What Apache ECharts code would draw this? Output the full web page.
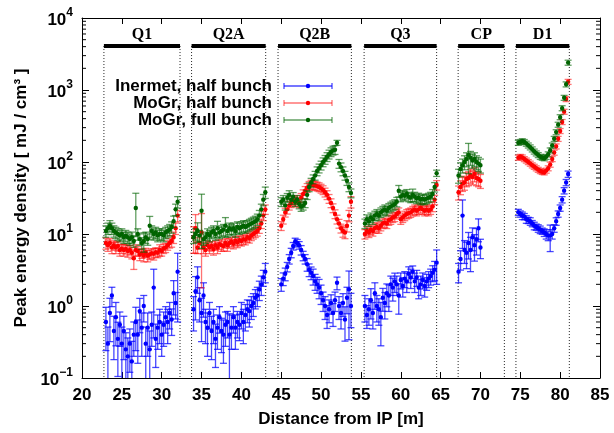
<!DOCTYPE html>
<html><head><meta charset="utf-8">
<script src="https://cdn.jsdelivr.net/npm/echarts@6/dist/echarts.min.js"></script>
<style>html,body{margin:0;padding:0;background:#fff}#c{width:614px;height:433px}</style>
</head><body><div id="c"></div>
<script>
// ---------- data ----------
const positions = [
  23,23.25,23.5,23.75,24,24.25,24.5,24.75,25,25.25,25.5,25.75,26,26.25,26.5,26.75,27,27.25,27.5,27.75,28,28.25,28.5,28.75,29,29.25,29.5,29.75,30,30.25,30.5,30.75,31,31.25,31.5,31.75,32,
  34,34.25,34.5,34.75,35,35.25,35.5,35.75,36,36.25,36.5,36.75,37,37.25,37.5,37.75,38,38.25,38.5,38.75,39,39.25,39.5,39.75,40,40.25,40.5,40.75,41,41.25,41.5,41.75,42,42.25,42.5,42.75,43,
  45,45.25,45.5,45.75,46,46.25,46.5,46.75,47,47.25,47.5,47.75,48,48.25,48.5,48.75,49,49.25,49.5,49.75,50,50.25,50.5,50.75,51,51.25,51.5,51.75,52,52.25,52.5,52.75,53,53.25,53.5,53.75,
  55.5,55.75,56,56.25,56.5,56.75,57,57.25,57.5,57.75,58,58.25,58.5,58.75,59,59.25,59.5,59.75,60,60.25,60.5,60.75,61,61.25,61.5,61.75,62,62.25,62.5,62.75,63,63.25,63.5,63.75,64,64.25,64.5,
  67.25,67.5,67.75,68,68.25,68.5,68.75,69,69.25,69.5,69.75,70,
  74.75,75,75.25,75.5,75.75,76,76.25,76.5,76.75,77,77.25,77.5,77.75,78,78.25,78.5,78.75,79,79.25,79.5,79.75,80,80.25,80.5,80.75,81
];
const inermetHalf = [
  0.6,0.3,0.8,1.4,0.45,0.7,0.35,0.55,0.3,0.45,0.25,0.2,0.3,0.17,0.4,0.6,0.4,0.85,0.5,1.0,0.3,0.5,0.25,0.55,1.8,0.35,0.5,0.6,0.4,0.55,0.7,0.6,0.8,0.65,1.5,1.1,3.0,
  0.9,1.6,2.5,1.2,0.8,1.4,0.6,0.5,0.8,0.45,0.6,0.35,0.5,0.7,0.45,0.4,0.55,0.6,0.4,0.5,0.7,0.5,0.6,0.55,0.8,0.6,0.75,0.9,0.85,1.0,1.1,1.3,1.4,1.7,2.0,2.5,3.0,
  2.0,2.4,2.8,3.5,4.5,5.5,6.8,7.8,7.5,7.0,6.0,5.0,4.5,3.8,3.2,2.9,2.6,2.2,2.0,1.8,1.5,1.2,1.0,0.75,0.9,1.1,0.8,1.2,2.1,1.0,0.8,1.1,0.65,1.3,1.7,1.0,
  1.0,0.75,0.9,1.2,0.8,1.5,1.0,0.9,0.7,1.3,1.1,1.5,1.4,2.0,1.8,2.2,2.0,1.4,2.3,1.9,2.4,2.2,2.8,2.5,3.0,2.2,2.5,1.8,2.0,2.3,1.9,2.2,2.4,2.6,2.9,3.2,4.0,
  3.0,4.5,18,6,5.5,7.5,6,9,7,8.5,12,6.5,
  20,19,18,17.5,16,15.5,15,14,13,12.5,12,11.5,11,10.5,10,9.5,9.5,10,12,15,19,23,30,40,52,68
];
const inermetHalfErr = [
  0.6,0.7,0.6,0.3,0.6,0.6,0.7,0.5,0.7,0.6,0.7,0.8,0.6,0.9,0.5,0.6,0.6,0.5,0.6,0.4,0.7,0.6,0.8,0.5,0.8,0.6,0.5,0.5,0.5,0.5,0.4,0.5,0.4,0.4,0.5,0.4,0.8,
  0.5,0.6,0.4,0.5,0.6,0.5,0.5,0.6,0.4,0.6,0.5,0.6,0.5,0.4,0.5,0.6,0.5,0.4,0.95,0.5,0.4,0.5,0.4,0.4,0.4,0.5,0.4,0.35,0.4,0.35,0.35,0.3,0.3,0.3,0.3,0.25,0.3,
  0.2,0.2,0.2,0.15,0.15,0.15,0.12,0.12,0.12,0.12,0.15,0.15,0.15,0.2,0.2,0.2,0.25,0.25,0.25,0.3,0.3,0.3,0.35,0.35,0.35,0.3,0.35,0.3,0.2,0.35,0.4,0.35,0.5,0.4,0.8,0.5,
  0.4,0.35,0.4,0.45,0.4,0.4,0.4,0.4,0.6,0.35,0.4,0.35,0.4,0.3,0.35,0.3,0.3,0.45,0.25,0.3,0.25,0.3,0.25,0.3,0.2,0.3,0.25,0.3,0.3,0.25,0.3,0.25,0.25,0.25,0.25,0.3,0.5,
  0.3,0.3,0.65,0.35,0.4,0.4,0.5,0.35,0.4,0.4,0.35,0.3,
  0.1,0.1,0.12,0.1,0.12,0.1,0.12,0.1,0.12,0.1,0.12,0.12,0.1,0.12,0.15,0.15,0.4,0.15,0.12,0.12,0.1,0.1,0.1,0.1,0.1,0.1
];
const mogrHalf = [
  7.5,7,7.5,6.5,7,6.5,6.8,6,6.3,6,6.2,5.8,6,5.5,4.6,6,5.8,5.2,5.4,5,5.5,5,5.2,5.4,5.3,5.6,5.5,6,5.8,6.3,6.5,7,7.5,8,9,12,18,
  9,12,6.5,7.5,10.5,6.5,6,7,6.5,6.8,6.2,7,6.5,7.2,7,6.8,7.5,7,7.5,7.8,7.3,8,7.6,8.2,8,8.5,8.3,9,8.8,9.5,10,10.5,11,12,14,18,22,
  13,16,20,22,25,27,29,28,30,27,32,36,40,44,47,49,48,47,46,45,43,41,38,35,31,27,23,19,16,14,12,11,10.5,13,18,28,
  10,11,10.5,11.5,11,12,12.5,12,13,14,14.5,14,15.5,16,17,17.5,19,20,16,17,18,19,19.5,20,21,22,21,22,23,22,21,22,21,22,24,30,48,
  38,45,50,52,58,60,65,62,68,60,58,55,
  115,118,116,110,105,100,95,90,86,82,78,75,73,72,76,82,92,110,135,165,210,270,360,500,750,1300
];
const mogrHalfErr = [
  0.18,0.18,0.15,0.18,0.15,0.18,0.15,0.18,0.15,0.18,0.15,0.18,0.15,0.18,0.3,0.18,0.15,0.18,0.15,0.18,0.15,0.18,0.15,0.15,0.18,0.15,0.15,0.18,0.15,0.15,0.15,0.15,0.15,0.18,0.18,0.18,0.18,
  0.4,0.55,0.18,0.18,0.83,0.18,0.18,0.15,0.18,0.15,0.18,0.15,0.18,0.15,0.18,0.15,0.15,0.18,0.15,0.15,0.15,0.15,0.15,0.15,0.15,0.15,0.15,0.15,0.15,0.15,0.15,0.15,0.15,0.15,0.15,0.15,0.15,
  0.14,0.14,0.14,0.14,0.14,0.14,0.14,0.14,0.14,0.14,0.14,0.14,0.14,0.14,0.14,0.14,0.14,0.14,0.14,0.14,0.14,0.14,0.14,0.14,0.14,0.14,0.14,0.14,0.14,0.14,0.14,0.18,0.18,0.18,0.18,0.18,
  0.15,0.15,0.15,0.15,0.15,0.15,0.15,0.15,0.15,0.15,0.15,0.15,0.15,0.15,0.15,0.15,0.15,0.15,0.15,0.15,0.15,0.15,0.15,0.15,0.15,0.15,0.15,0.15,0.15,0.15,0.15,0.15,0.15,0.15,0.15,0.15,0.15,
  0.22,0.22,0.22,0.22,0.22,0.22,0.22,0.22,0.22,0.22,0.22,0.22,
  0.08,0.08,0.08,0.08,0.08,0.08,0.08,0.08,0.08,0.08,0.08,0.08,0.08,0.08,0.08,0.08,0.08,0.08,0.08,0.08,0.08,0.08,0.08,0.08,0.08,0.08
];
const mogrFull = [
  11,12,13,12,11,10.5,10,9.5,10,9,9.5,9,8.5,9,8,23,10,8.5,7.5,8,9,8.5,13,11,10,10.5,9.5,10,10,9.5,10.5,11,11.5,12.5,15,22,28,
  9,10,11,9.5,21,8.5,9,10,9.5,10.5,11,10,12,10.5,11,11.5,13,11,12,11.5,12,11,12.5,12,12.5,13,12.5,13,13.5,14,14.5,15,16,18,22,30,38,
  28,30,25,32,35,30,33,28,30,26,24,25,27,35,45,52,58,65,75,82,90,100,108,118,128,138,145,148,185,95,85,75,65,55,45,37,
  14,16,15,17,16,18,19,18,20,21,22,21,23,24,25,26,28,40,33,35,34,36,33,32,35,33,31,32,30,31,30,31,32,33,36,45,70,
  65,80,90,100,110,125,115,105,110,100,95,90,
  185,190,195,190,180,170,160,150,140,132,125,118,115,113,118,128,145,170,210,260,330,420,560,780,1200,2400
];
const mogrFullErr = [
  0.18,0.18,0.18,0.18,0.18,0.18,0.18,0.18,0.18,0.18,0.18,0.18,0.18,0.18,0.18,0.6,0.18,0.18,0.18,0.3,0.18,0.18,0.35,0.18,0.18,0.18,0.18,0.18,0.18,0.18,0.18,0.18,0.18,0.18,0.18,0.18,0.18,
  0.18,0.18,0.3,0.18,0.7,0.18,0.18,0.18,0.18,0.18,0.18,0.18,0.25,0.18,0.18,0.18,0.3,0.18,0.18,0.18,0.18,0.18,0.18,0.18,0.18,0.18,0.18,0.18,0.18,0.18,0.18,0.18,0.18,0.18,0.18,0.18,0.18,
  0.14,0.14,0.14,0.14,0.14,0.14,0.14,0.14,0.14,0.14,0.14,0.14,0.14,0.14,0.14,0.14,0.14,0.14,0.14,0.14,0.14,0.14,0.14,0.14,0.14,0.14,0.14,0.14,0.08,0.14,0.14,0.14,0.14,0.14,0.14,0.14,
  0.15,0.15,0.15,0.15,0.15,0.15,0.15,0.15,0.15,0.15,0.15,0.15,0.15,0.15,0.15,0.15,0.15,0.18,0.15,0.15,0.15,0.15,0.15,0.15,0.2,0.15,0.15,0.15,0.15,0.15,0.15,0.15,0.15,0.15,0.15,0.15,0.1,
  0.22,0.22,0.22,0.22,0.22,0.45,0.22,0.22,0.22,0.22,0.22,0.22,
  0.08,0.08,0.08,0.08,0.08,0.08,0.08,0.08,0.08,0.08,0.08,0.08,0.08,0.08,0.08,0.08,0.08,0.08,0.08,0.08,0.08,0.08,0.08,0.08,0.08,0.08
];
const sectionNames = ['Q1','Q2A','Q2B','Q3','CP','D1'];
const sectionStart = [22.75,33.75,44.6,55.4,67.2,74.45];
const sectionEnd   = [32.3,43.05,53.8,64.5,73.0,81.15];
const seriesNames = ['Inermet, half bunch','MoGr, half bunch','MoGr, full bunch'];

// ---------- chart ----------
const FONT = 'Liberation Sans';
const SERIF = 'Liberation Serif';
const X_MIN = 20, X_MAX = 85, Y_MIN = 0.1, Y_MAX = 10000;
const BAR_Y = 4080, LABEL_Y = 5800;
const styles = [
  {point:'#0000ff', bar:'rgba(0,0,255,0.72)'},
  {point:'#ff0000', bar:'rgba(255,0,0,0.55)'},
  {point:'#006400', bar:'rgba(0,100,0,0.62)'}
];

function toData(vals, rel) {
  return positions.map((x, i) => [x, vals[i], vals[i] * (1 - rel[i]), vals[i] * (1 + rel[i])]);
}

function errRender(st) {
  return function (params, api) {
    const x = api.value(0), y = api.value(1), lo = api.value(2), hi = api.value(3);
    const p = api.coord([x, y]);
    const pl = api.coord([x, Math.max(lo, 0.001)]);
    const ph = api.coord([x, hi]);
    const c = 3.5;
    const ls = {stroke: st.bar, lineWidth: 1.3};
    return {type: 'group', children: [
      {type: 'line', shape: {x1: p[0], y1: pl[1], x2: p[0], y2: ph[1]}, style: ls},
      {type: 'line', shape: {x1: p[0] - c, y1: pl[1], x2: p[0] + c, y2: pl[1]}, style: ls},
      {type: 'line', shape: {x1: p[0] - c, y1: ph[1], x2: p[0] + c, y2: ph[1]}, style: ls},
      {type: 'circle', shape: {cx: p[0], cy: p[1], r: 2.2}, style: {fill: st.point}}
    ]};
  };
}

const minorVals = [];
for (let e = -1; e < 4; e++) for (let m = 2; m <= 9; m++) minorVals.push([X_MIN, m * Math.pow(10, e)]);

const chart = echarts.init(document.getElementById('c'), null, {renderer: 'canvas'});
const legendGraphics = [];
seriesNames.forEach((n, i) => {
  const y = 86 + 17 * i;
  const st = styles[i];
  legendGraphics.push(
    {type: 'text', x: 272, y: y, style: {text: n, fill: '#000', font: 'bold 17px "' + FONT + '"', textAlign: 'right', textVerticalAlign: 'middle'}},
    {type: 'line', shape: {x1: 284, y1: y, x2: 332, y2: y}, style: {stroke: st.bar, lineWidth: 1.3}},
    {type: 'line', shape: {x1: 284, y1: y - 3, x2: 284, y2: y + 3}, style: {stroke: st.bar, lineWidth: 1.3}},
    {type: 'line', shape: {x1: 332, y1: y - 3, x2: 332, y2: y + 3}, style: {stroke: st.bar, lineWidth: 1.3}},
    {type: 'circle', shape: {cx: 308, cy: y, r: 2.2}, style: {fill: st.point}}
  );
});

const axisTxt = {color: '#000', fontFamily: FONT, fontWeight: 'bold', fontSize: 17};
chart.setOption({
  animation: false,
  backgroundColor: '#fff',
  grid: {left: 82, right: 14, top: 18, bottom: 55, containLabel: false},
  xAxis: [
    {type: 'value', min: X_MIN, max: X_MAX, interval: 5, position: 'bottom',
     axisLine: {show: true, onZero: false, lineStyle: {color: '#000', width: 1}},
     axisTick: {show: true, inside: true, length: 6, lineStyle: {color: '#000'}},
     axisLabel: Object.assign({margin: 9}, axisTxt),
     splitLine: {show: false},
     name: 'Distance from IP [m]', nameLocation: 'middle', nameGap: 33,
     nameTextStyle: axisTxt},
    {type: 'value', min: X_MIN, max: X_MAX, interval: 5, position: 'top',
     axisLine: {show: true, onZero: false, lineStyle: {color: '#000', width: 1}},
     axisTick: {show: true, inside: true, length: 6, lineStyle: {color: '#000'}},
     axisLabel: {show: false}, splitLine: {show: false}}
  ],
  yAxis: [
    {type: 'log', logBase: 10, min: Y_MIN, max: Y_MAX, position: 'left',
     axisLine: {show: true, onZero: false, lineStyle: {color: '#000', width: 1}},
     axisTick: {show: true, inside: true, length: 7, lineStyle: {color: '#000'}},
     axisLabel: {
       margin: 9,
       formatter: function (v) {
         const e = Math.round(Math.log10(v));
         return '{b|10}{s|' + (e < 0 ? '\u2212' + (-e) : e) + '}';
       },
       rich: {
         b: {fontSize: 17, fontWeight: 'bold', fontFamily: FONT, color: '#000', lineHeight: 22, verticalAlign: 'bottom'},
         s: {fontSize: 12, fontWeight: 'bold', fontFamily: FONT, color: '#000', lineHeight: 12, verticalAlign: 'top'}
       }
     },
     splitLine: {show: false},
     name: 'Peak energy density [ mJ / cm\u00b3 ]', nameLocation: 'middle', nameGap: 47,
     nameTextStyle: axisTxt},
    {type: 'log', logBase: 10, min: Y_MIN, max: Y_MAX, position: 'right',
     axisLine: {show: true, onZero: false, lineStyle: {color: '#000', width: 1}},
     axisTick: {show: true, inside: true, length: 7, lineStyle: {color: '#000'}},
     axisLabel: {show: false}, splitLine: {show: false}}
  ],
  graphic: legendGraphics,
  series: [
    {type: 'custom', name: 'minor', silent: true, data: minorVals, encode: {x: 0, y: 1},
     renderItem: function (params, api) {
       const v = api.value(1);
       const l = api.coord([X_MIN, v]), r = api.coord([X_MAX, v]);
       return {type: 'group', children: [
         {type: 'line', shape: {x1: l[0], y1: l[1], x2: l[0] + 4, y2: l[1]}, style: {stroke: '#000', lineWidth: 1}},
         {type: 'line', shape: {x1: r[0] - 4, y1: r[1], x2: r[0], y2: r[1]}, style: {stroke: '#000', lineWidth: 1}}
       ]};
     }},
    {type: 'custom', name: 'sections', silent: true,
     data: sectionStart.map((s, i) => [s, BAR_Y, sectionEnd[i], i]), encode: {x: 0, y: 1},
     renderItem: function (params, api) {
       const s = api.value(0), e = api.value(2), i = api.value(3);
       const a = api.coord([s, BAR_Y]), b = api.coord([e, BAR_Y]);
       const a0 = api.coord([s, Y_MIN]), b0 = api.coord([e, Y_MIN]);
       const t = api.coord([(s + e) / 2, LABEL_Y]);
       const dot = {stroke: '#222', lineWidth: 1, lineDash: [1, 2]};
       return {type: 'group', children: [
         {type: 'line', shape: {x1: a[0], y1: a[1], x2: a0[0], y2: a0[1]}, style: dot},
         {type: 'line', shape: {x1: b[0], y1: b[1], x2: b0[0], y2: b0[1]}, style: dot},
         {type: 'line', shape: {x1: a[0], y1: a[1], x2: b[0], y2: b[1]}, style: {stroke: '#000', lineWidth: 4}},
         {type: 'text', x: t[0], y: t[1], style: {text: sectionNames[i], fill: '#000',
           font: 'bold 16px "' + SERIF + '"', textAlign: 'center', textVerticalAlign: 'middle'}}
       ]};
     }},
    {type: 'custom', name: seriesNames[0], clip: true, data: toData(inermetHalf, inermetHalfErr), encode: {x: 0, y: 1}, renderItem: errRender(styles[0])},
    {type: 'custom', name: seriesNames[1], clip: true, data: toData(mogrHalf, mogrHalfErr), encode: {x: 0, y: 1}, renderItem: errRender(styles[1])},
    {type: 'custom', name: seriesNames[2], clip: true, data: toData(mogrFull, mogrFullErr), encode: {x: 0, y: 1}, renderItem: errRender(styles[2])}
  ]
});
</script>
</body></html>
